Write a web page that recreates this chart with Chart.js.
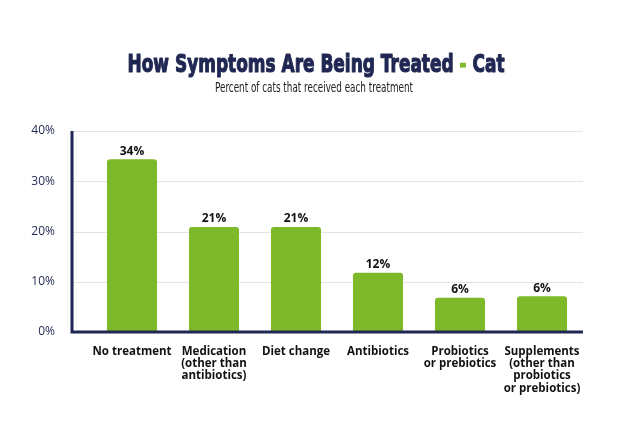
<!DOCTYPE html>
<html><head><meta charset="utf-8">
<script src="https://cdn.jsdelivr.net/npm/chart.js@4/dist/chart.umd.min.js"></script>
<style>html,body{margin:0;padding:0;background:#fff}#wrap{width:634px;height:442px;position:relative}</style>
</head><body><div id="wrap"><canvas id="c" width="634" height="442"></canvas></div>
<script>
const categories = [["No treatment"], ["Medication","(other than","antibiotics)"], ["Diet change"], ["Antibiotics"], ["Probiotics","or prebiotics"], ["Supplements","(other than","probiotics","or prebiotics)"]];
const values = [34.4, 20.9, 20.9, 11.8, 6.8, 7.1];
const valueLabels = ["34%", "21%", "21%", "12%", "6%", "6%"];
const yTicks = [0, 10, 20, 30, 40];

const NAVY = '#1f2752';
const GREEN = '#7db928';
const AXIS_X = 72;

function drawScaled(ctx, parts, cx, y, targetW, stroke) {
  let total = parts.reduce((s, p) => s + ctx.measureText(p[0]).width, 0);
  const k = targetW / total;
  ctx.save();
  ctx.translate(cx - targetW / 2, y);
  ctx.scale(k, 1);
  let x = 0;
  for (const [t, col] of parts) {
    ctx.fillStyle = col;
    ctx.fillText(t, x, 0);
    if (stroke) {
      ctx.strokeStyle = col;
      ctx.lineWidth = stroke;
      ctx.lineJoin = 'round';
      ctx.strokeText(t, x, 0);
    }
    x += ctx.measureText(t).width;
  }
  ctx.restore();
}

const gridPlugin = {
  id: 'grid',
  beforeDatasetsDraw(chart) {
    const ctx = chart.ctx, a = chart.chartArea, ys = chart.scales.y;
    ctx.save();
    ctx.strokeStyle = '#e2e2ec';
    ctx.lineWidth = 1;
    yTicks.forEach(v => {
      const y = Math.round(ys.getPixelForValue(v)) + 0.5;
      ctx.beginPath(); ctx.moveTo(AXIS_X, y); ctx.lineTo(a.right, y); ctx.stroke();
    });
    ctx.restore();
  }
};

const titlePlugin = {
  id: 'titles',
  afterDraw(chart) {
    const ctx = chart.ctx;
    ctx.save();
    ctx.textBaseline = 'alphabetic';
    ctx.font = 'bold 25px "DejaVu Sans", sans-serif';
    drawScaled(ctx, [["How Symptoms Are Being Treated ", NAVY], ["-", GREEN], [" Cat", NAVY]], 316, 72, 377, 1.2);
    ctx.font = '14px "Liberation Sans Narrow", "DejaVu Sans Condensed", sans-serif';
    drawScaled(ctx, [["Percent of cats that received each treatment", '#222']], 314, 92, 198, 0);
    // value labels
    const meta = chart.getDatasetMeta(0);
    ctx.font = 'bold 12px "Open Sans", "DejaVu Sans", sans-serif';
    ctx.fillStyle = '#111';
    ctx.textAlign = 'center';
    ctx.textBaseline = 'bottom';
    meta.data.forEach((bar, i) => {
      ctx.fillText(valueLabels[i], bar.x, bar.y - 2);
    });
    // axes lines
    const a = chart.chartArea;
    ctx.strokeStyle = NAVY;
    ctx.lineWidth = 3;
    ctx.beginPath();
    ctx.moveTo(AXIS_X, a.top);
    ctx.lineTo(AXIS_X, a.bottom);
    ctx.lineTo(a.right, a.bottom);
    ctx.stroke();
    ctx.restore();
  }
};

new Chart(document.getElementById('c'), {
  type: 'bar',
  data: {
    labels: categories,
    datasets: [{
      data: values,
      backgroundColor: GREEN,
      borderRadius: {topLeft: 3, topRight: 3},
      borderSkipped: 'bottom',
      barPercentage: 0.61,
      categoryPercentage: 1.0
    }]
  },
  options: {
    responsive: false,
    animation: false,
    layout: {padding: {top: 131, right: 51, left: 0, bottom: 0}},
    plugins: {legend: {display: false}, tooltip: {enabled: false}, title: {display: false}},
    scales: {
      x: {
        grid: {display: false},
        border: {display: false},
        ticks: {
          color: '#111',
          font: {family: '"Open Sans", "DejaVu Sans", sans-serif', size: 11.5, weight: 'bold', lineHeight: 1.05},
          maxRotation: 0, autoSkip: false, padding: 6
        },
        afterFit(s) { s.height = 110; }
      },
      y: {
        min: 0, max: 40,
        afterBuildTicks(s) { s.ticks = yTicks.map(v => ({value: v})); },
        grid: {display: false},
        border: {display: false},
        ticks: {
          color: NAVY,
          font: {family: '"Open Sans", "DejaVu Sans", sans-serif', size: 12},
          padding: 28,
          callback: v => v + '%'
        },
        afterFit(s) { s.width = 91; }
      }
    }
  },
  plugins: [gridPlugin, titlePlugin]
});
</script>
</body></html>
